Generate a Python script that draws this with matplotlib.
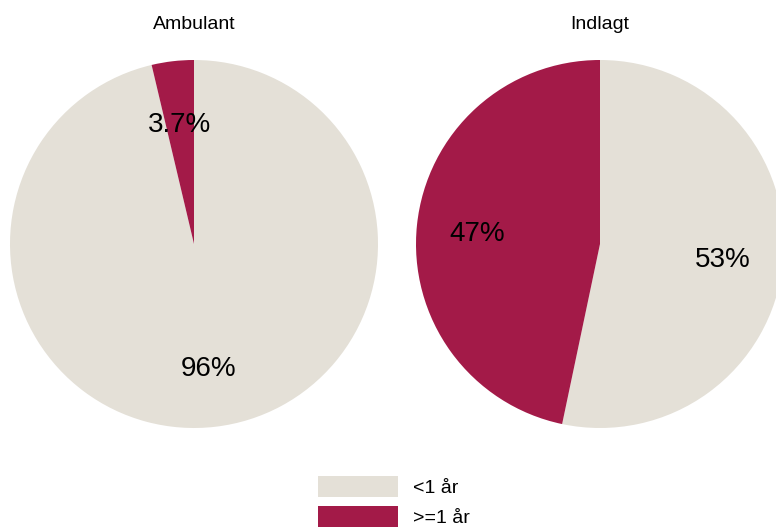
import matplotlib
matplotlib.use("Agg")
import numpy as np
import matplotlib.pyplot as plt
from matplotlib.patches import Patch
from matplotlib.transforms import offset_copy

plt.rcParams['font.family'] = ['Liberation Sans', 'DejaVu Sans']

categories = ["<1 år", ">=1 år"]
groups = ["Ambulant", "Indlagt"]
ambulant = [96.3, 3.7]
indlagt = [53.3, 46.7]
labels_amb = ["96%", "3.7%"]
labels_ind = ["53%", "47%"]
colors = ["#E4E0D7", "#A31A48"]

W, H = 776, 529
fig = plt.figure(figsize=(W / 100, H / 100), dpi=100)

def add_pie(cx, cy, r, values, labels, title):
    ax = fig.add_axes([(cx - r) / W, (H - cy - r) / H, 2 * r / W, 2 * r / H])
    wedges, _ = ax.pie(values, colors=colors, startangle=90, counterclock=False,
                       radius=1.0, wedgeprops=dict(linewidth=0))
    total = sum(values)
    start = 90.0
    tr = offset_copy(ax.transData, fig=fig, x=0, y=-10, units='dots')
    for v, lab in zip(values, labels):
        ang = start - v / total * 360 / 2
        start -= v / total * 360
        d = 0.67
        ax.text(d * np.cos(np.radians(ang)), d * np.sin(np.radians(ang)), lab,
                ha='center', va='baseline', fontsize=20, color='black',
                transform=tr)
    for w in wedges:
        w.set_clip_on(False)
    ax.set_xlim(-1, 1)
    ax.set_ylim(-1, 1)
    ax.set_aspect('equal')
    ax.axis('off')
    fig.text(cx / W, 1 - 29 / H, title, ha='center', va='baseline', fontsize=14)

add_pie(194, 244, 184, ambulant, labels_amb, groups[0])
add_pie(600, 244, 184, indlagt, labels_ind, groups[1])

handles = [Patch(facecolor=c, edgecolor='none') for c in colors]
fig.legend(handles, categories, loc='upper left', bbox_to_anchor=(318 / W, 1 - 476 / H),
           frameon=False, fontsize=14, handlelength=4.12, handleheight=1.3,
           labelspacing=0.45, handletextpad=0.76, borderpad=0, borderaxespad=0)

fig.savefig("out.png", dpi=100)
